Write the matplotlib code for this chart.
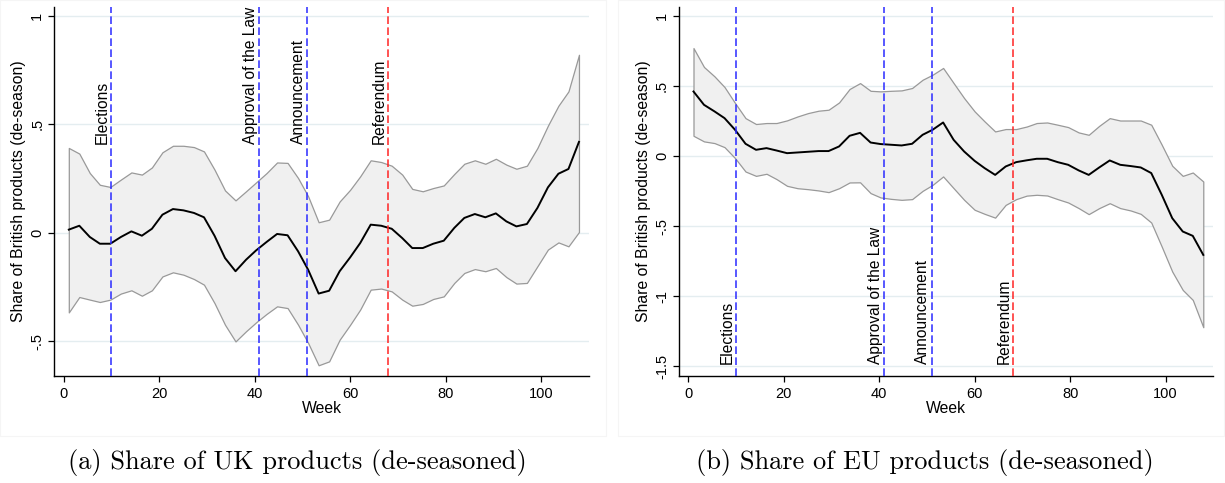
import matplotlib
matplotlib.use("Agg")
import matplotlib.pyplot as plt
from matplotlib.patches import Rectangle

plt.rcParams["font.family"] = ["Liberation Sans", "DejaVu Sans"]

# weeks of the estimates (same grid in both panels)
weeks = [1.1, 3.3, 5.5, 7.6, 9.8, 12.0, 14.2, 16.4, 18.5, 20.7,
         22.9, 25.1, 27.3, 29.4, 31.6, 33.8, 36.0, 38.2, 40.3, 42.5,
         44.7, 46.9, 49.1, 51.2, 53.4, 55.6, 57.8, 60.0, 62.1, 64.3,
         66.5, 68.7, 70.9, 73.0, 75.2, 77.4, 79.6, 81.8, 83.9, 86.1,
         88.3, 90.5, 92.7, 94.8, 97.0, 99.2, 101.4, 103.6, 105.7, 107.9]

# (a) UK products
uk_mean = [0.014, 0.032, -0.020, -0.051, -0.051, -0.020, 0.006, -0.014, 0.018, 0.083,
           0.109, 0.103, 0.091, 0.071, -0.014, -0.117, -0.178, -0.125, -0.082, -0.043,
           -0.006, -0.012, -0.086, -0.171, -0.281, -0.268, -0.178, -0.114, -0.048, 0.037,
           0.032, 0.018, -0.025, -0.071, -0.071, -0.051, -0.037, 0.022, 0.068, 0.086,
           0.071, 0.089, 0.052, 0.029, 0.040, 0.114, 0.209, 0.272, 0.294, 0.419]
uk_upper = [0.391, 0.365, 0.275, 0.221, 0.211, 0.245, 0.278, 0.268, 0.301, 0.371,
            0.401, 0.401, 0.395, 0.375, 0.291, 0.195, 0.149, 0.191, 0.232, 0.275,
            0.324, 0.322, 0.252, 0.168, 0.048, 0.060, 0.144, 0.198, 0.260, 0.334,
            0.326, 0.309, 0.268, 0.202, 0.191, 0.206, 0.218, 0.271, 0.318, 0.334,
            0.318, 0.341, 0.314, 0.295, 0.309, 0.391, 0.494, 0.586, 0.652, 0.821]
uk_lower = [-0.368, -0.297, -0.309, -0.320, -0.309, -0.281, -0.266, -0.291, -0.266, -0.202,
            -0.183, -0.194, -0.214, -0.240, -0.325, -0.425, -0.502, -0.455, -0.414, -0.375,
            -0.340, -0.348, -0.425, -0.509, -0.612, -0.594, -0.494, -0.425, -0.355, -0.263,
            -0.258, -0.271, -0.309, -0.337, -0.329, -0.306, -0.294, -0.232, -0.186, -0.168,
            -0.178, -0.163, -0.205, -0.235, -0.232, -0.155, -0.078, -0.045, -0.063, 0.003]

# (b) EU products
eu_mean = [0.461, 0.366, 0.319, 0.271, 0.188, 0.088, 0.045, 0.057, 0.040, 0.021,
           0.026, 0.031, 0.036, 0.036, 0.069, 0.145, 0.166, 0.097, 0.086, 0.081,
           0.076, 0.088, 0.152, 0.188, 0.240, 0.116, 0.033, -0.034, -0.086, -0.134,
           -0.074, -0.043, -0.030, -0.019, -0.019, -0.043, -0.062, -0.102, -0.134, -0.081,
           -0.031, -0.062, -0.071, -0.081, -0.121, -0.276, -0.443, -0.538, -0.569, -0.705]
eu_upper = [0.771, 0.636, 0.569, 0.493, 0.379, 0.271, 0.229, 0.236, 0.236, 0.255,
            0.283, 0.307, 0.324, 0.331, 0.383, 0.479, 0.521, 0.466, 0.462, 0.466,
            0.469, 0.486, 0.545, 0.581, 0.629, 0.521, 0.414, 0.319, 0.247, 0.176,
            0.193, 0.193, 0.211, 0.236, 0.240, 0.224, 0.207, 0.169, 0.152, 0.216,
            0.271, 0.254, 0.254, 0.254, 0.224, 0.081, -0.069, -0.141, -0.117, -0.181]
eu_lower = [0.145, 0.105, 0.093, 0.064, -0.014, -0.110, -0.141, -0.126, -0.164, -0.212,
            -0.229, -0.236, -0.245, -0.257, -0.229, -0.188, -0.187, -0.264, -0.295, -0.305,
            -0.312, -0.307, -0.248, -0.205, -0.145, -0.229, -0.312, -0.383, -0.412, -0.439,
            -0.348, -0.307, -0.282, -0.276, -0.281, -0.307, -0.331, -0.371, -0.414, -0.371,
            -0.336, -0.371, -0.388, -0.412, -0.474, -0.646, -0.824, -0.955, -1.026, -1.221]

events = [10, 41, 51, 68]
event_labels = ["Elections", "Approval of the Law", "Announcement", "Referendum"]
event_colors = ["#2a2aff", "#2a2aff", "#2a2aff", "#ff2424"]

xticks = [0, 20, 40, 60, 80, 100]
uk_yticks = [-0.5, 0, 0.5, 1]
uk_yticklabels = ["-.5", "0", ".5", "1"]
eu_yticks = [-1.5, -1, -0.5, 0, 0.5, 1]
eu_yticklabels = ["-1.5", "-1", "-.5", "0", ".5", "1"]

captions = ["(a) Share of UK products (de-seasoned)",
            "(b) Share of EU products (de-seasoned)"]

W, H = 1225, 483
fig = plt.figure(figsize=(W / 100, H / 100), dpi=100)


def px_axes(x0, x1, y0, y1):
    # pixel box, origin top-left
    return fig.add_axes([x0 / W, 1 - y1 / H, (x1 - x0) / W, (y1 - y0) / H])


def draw_panel(ax, mean, upper, lower, ylim, yticks, yticklabels, label_y):
    ax.set_xlim(-2, 110)
    ax.set_ylim(*ylim)
    for y in yticks:
        ax.axhline(y, color="#e4edf0", lw=1, zorder=0)
    ax.fill_between(weeks, lower, upper, facecolor="#f0f0f0",
                    edgecolor="#999999", lw=0.9, zorder=1)
    ax.plot(weeks, mean, color="black", lw=1.4, zorder=3)
    for wk, lab, col in zip(events, event_labels, event_colors):
        ax.axvline(wk, color=col, lw=1.1, linestyle=(0, (5, 2.2)), zorder=4)
        ax.annotate(lab, xy=(wk, label_y), xytext=(-1, 0),
                    textcoords="offset points", rotation=90,
                    ha="right", va="bottom", fontsize=11.2, zorder=5)

    ax.set_xticks(xticks)
    ax.set_yticks(yticks)
    ax.set_yticklabels(yticklabels, rotation=90, va="center")
    ax.tick_params(direction="out", length=4, width=0.9, labelsize=10.5)
    ax.tick_params(axis="x", pad=4)
    ax.tick_params(axis="y", pad=3)
    for s in ["top", "right"]:
        ax.spines[s].set_visible(False)
    for s in ["left", "bottom"]:
        ax.spines[s].set_linewidth(1.0)
    ax.set_xlabel("Week", fontsize=11.3, labelpad=0)
    ax.set_ylabel("Share of British products (de-season)", fontsize=11.3, labelpad=3)


ax1 = px_axes(54, 589, 7, 376)
draw_panel(ax1, uk_mean, uk_upper, uk_lower, (-0.6615, 1.0415),
           uk_yticks, uk_yticklabels, 0.41)

ax2 = px_axes(678.7, 1213.3, 7, 376)
draw_panel(ax2, eu_mean, eu_upper, eu_lower, (-1.569, 1.064),
           eu_yticks, eu_yticklabels, -1.48)

# faint frames of the two sub-figures
fig.patches.append(Rectangle((0, 1 - 436 / H), 605.7 / W, 436 / H,
                             transform=fig.transFigure, fill=False,
                             edgecolor="#f5f5f5", lw=0.8))
fig.patches.append(Rectangle((618 / W, 1 - 436 / H), (W - 619) / W, 436 / H,
                             transform=fig.transFigure, fill=False,
                             edgecolor="#f5f5f5", lw=0.8))

for cx, cap in zip([297, 925], captions):
    fig.text(cx / W, 1 - 463 / H, cap, ha="center", va="center",
             fontsize=19, family="cmr10")

fig.savefig("out.png", dpi=100)
